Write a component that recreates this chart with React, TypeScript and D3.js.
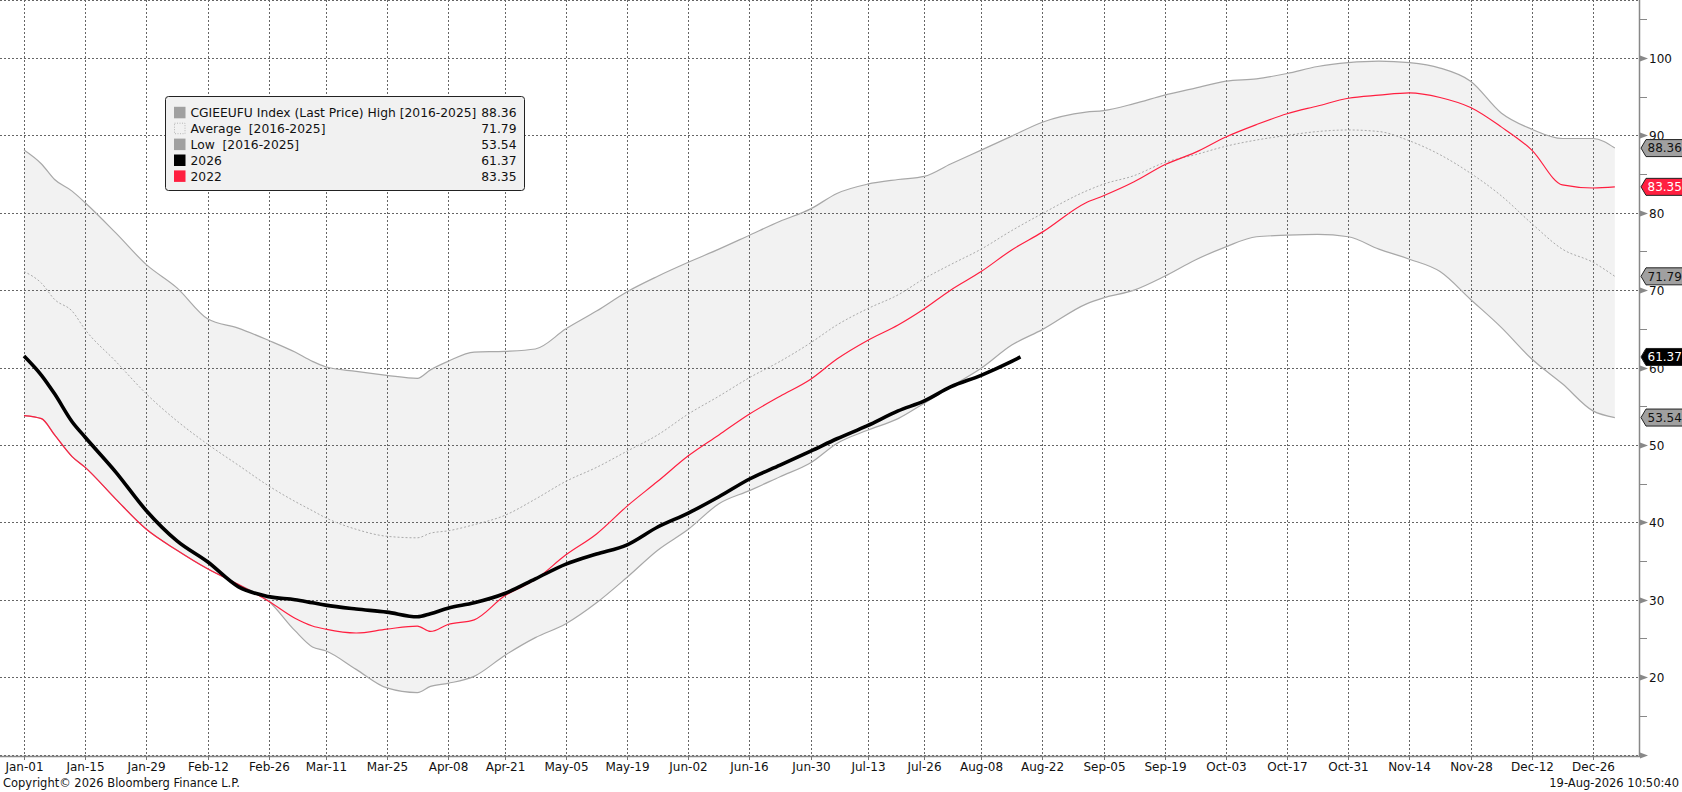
import * as React from 'react';
import * as d3 from 'd3';

// sample dates (MM-DD, 2026 calendar) used by the seasonal series
const seasonDates: string[] = [
	'01-01', '01-05', '01-08', '01-12', '01-15', '01-22', '01-29', '02-05', '02-12', '02-19',
	'02-26', '03-04', '03-08', '03-11', '03-18', '03-25', '04-01', '04-04', '04-08', '04-14',
	'04-21', '04-28', '05-05', '05-12', '05-19', '05-26', '06-02', '06-09', '06-16', '06-23',
	'06-30', '07-06', '07-13', '07-20', '07-26', '08-01', '08-08', '08-15', '08-22', '09-01',
	'09-05', '09-12', '09-19', '09-26', '10-03', '10-10', '10-17', '10-24', '10-31', '11-07',
	'11-14', '11-21', '11-28', '12-05', '12-12', '12-19', '12-26', '12-31'
];

const highValues: number[] = [
	88.1, 86.3, 84.3, 82.8, 81.3, 77.4, 73.3, 70.3, 66.3, 65.1,
	63.5, 62.0, 60.8, 60.1, 59.5, 59.0, 58.6, 59.7, 60.8, 62.0,
	62.1, 62.4, 65.0, 67.3, 69.8, 71.8, 73.6, 75.3, 77.1, 78.9,
	80.5, 82.5, 83.7, 84.3, 84.7, 86.3, 88.1, 89.9, 91.7, 93.0,
	93.2, 94.1, 95.2, 96.1, 97.0, 97.3, 98.0, 98.9, 99.4, 99.6,
	99.4, 98.7, 97.0, 92.9, 90.8, 89.6, 89.6, 88.36
];

const averageValues: number[] = [
	72.4, 70.9, 68.8, 67.3, 64.9, 60.8, 56.6, 53.1, 50.1, 47.4,
	44.7, 42.7, 41.5, 40.6, 39.1, 38.2, 38.0, 38.6, 38.9, 39.7,
	40.9, 43.0, 45.3, 47.1, 49.2, 51.3, 54.0, 56.3, 58.7, 60.8,
	63.2, 65.5, 67.6, 69.4, 71.5, 73.3, 75.3, 77.7, 79.9, 82.8,
	83.7, 84.8, 86.5, 87.5, 88.6, 89.4, 90.0, 90.5, 90.7, 90.5,
	89.3, 87.5, 85.1, 82.2, 78.6, 75.3, 73.6, 71.79
];

const lowValues: number[] = [
	53.8, 53.4, 51.3, 48.5, 47.1, 43.0, 39.1, 36.4, 34.0, 32.0,
	29.8, 26.0, 23.9, 23.4, 21.0, 18.6, 18.0, 18.8, 19.2, 20.1,
	22.8, 25.1, 26.9, 29.6, 32.9, 36.4, 39.1, 42.4, 44.1, 45.9,
	47.7, 50.2, 51.9, 53.4, 55.4, 57.5, 59.9, 62.9, 64.9, 68.2,
	69.0, 70.0, 71.8, 73.9, 75.6, 76.9, 77.1, 77.2, 76.9, 75.3,
	74.0, 72.4, 68.8, 65.2, 61.1, 57.9, 54.4, 53.54
];

const values2022: number[] = [
	53.8, 53.4, 51.3, 48.5, 47.1, 43.0, 39.1, 36.4, 34.0, 32.0,
	29.8, 27.6, 26.6, 26.2, 25.7, 26.2, 26.6, 25.9, 26.8, 27.4,
	30.5, 32.6, 35.8, 38.5, 42.1, 45.3, 48.6, 51.3, 54.0, 56.3,
	58.5, 61.1, 63.5, 65.5, 67.6, 70.0, 72.4, 75.2, 77.5, 81.3,
	82.2, 84.0, 86.2, 87.8, 89.8, 91.4, 92.8, 93.8, 94.8, 95.2,
	95.5, 94.9, 93.6, 91.1, 88.1, 83.6, 83.2, 83.35
];

const dates2026: string[] = [...seasonDates.slice(0, 38), '08-17'];
const values2026: number[] = [
	61.5, 59.0, 56.6, 53.0, 51.0, 46.5, 41.5, 37.6, 34.9, 31.7,
	30.4, 30.0, 29.6, 29.3, 28.8, 28.4, 27.8, 28.2, 28.9, 29.6,
	30.8, 32.7, 34.6, 35.9, 37.1, 39.4, 41.2, 43.3, 45.6, 47.4,
	49.2, 50.8, 52.5, 54.4, 55.7, 57.5, 59.0, 60.8, 61.37
];

const xTickLabels: string[] = [
	'Jan-01', 'Jan-15', 'Jan-29', 'Feb-12', 'Feb-26', 'Mar-11', 'Mar-25', 'Apr-08', 'Apr-21',
	'May-05', 'May-19', 'Jun-02', 'Jun-16', 'Jun-30', 'Jul-13', 'Jul-26', 'Aug-08', 'Aug-22',
	'Sep-05', 'Sep-19', 'Oct-03', 'Oct-17', 'Oct-31', 'Nov-14', 'Nov-28', 'Dec-12', 'Dec-26'
];

const yMajorTicks: number[] = [10, 20, 30, 40, 50, 60, 70, 80, 90, 100];
const yMinorTicks: number[] = [15, 25, 35, 45, 55, 65, 75, 85, 95, 105];

const legendLabels: string[] = [
	'CGIEEUFU Index (Last Price) High [2016-2025]',
	'Average  [2016-2025]',
	'Low  [2016-2025]',
	'2026',
	'2022'
];
const legendValues: string[] = ['88.36', '71.79', '53.54', '61.37', '83.35'];

const FONT = "Tahoma, 'DejaVu Sans', sans-serif";
const RED = '#ff1f40';
const BAND_LINE = '#a8a8a8';

const parseDay = (s: string) => {
	const [m, d] = s.split('-').map(Number);
	return new Date(2026, m - 1, d);
};
const parseTick = d3.timeParse('%Y-%b-%d');

export default function App() {
	const ref = React.useRef<SVGSVGElement>(null);

	React.useEffect(() => {
		const width = 1682;
		const height = 792;
		const axisX = 1640;
		const axisY = 756;

		const x = d3.scaleTime().domain([new Date(2026, 0, 1), new Date(2026, 11, 26)]).range([24, 1593]);
		const y = d3.scaleLinear().domain([10, 100]).range([754.5, 58]);

		const svg = d3.select(ref.current);
		svg.selectAll('*').remove();
		svg.attr('width', width).attr('height', height);
		svg.append('rect').attr('width', width).attr('height', height).attr('fill', '#fff');

		const band = seasonDates.map((s, i) => ({ date: parseDay(s), hi: highValues[i], lo: lowValues[i] }));

		// shaded high/low range
		const area = d3
			.area<any>()
			.x((d) => x(d.date))
			.y0((d) => y(d.lo))
			.y1((d) => y(d.hi))
			.curve(d3.curveMonotoneX);
		svg.append('path').datum(band).attr('d', area).attr('fill', '#f2f2f2');

		// grid
		const grid = svg.append('g').attr('stroke', '#666').attr('stroke-width', 1).attr('stroke-dasharray', '2,2');
		yMajorTicks.forEach((v) => {
			const yy = Math.round(y(v)) + 0.5;
			grid.append('line').attr('x1', 0).attr('x2', axisX).attr('y1', yy).attr('y2', yy);
		});
		grid.append('line').attr('x1', 0).attr('x2', axisX).attr('y1', 0.5).attr('y2', 0.5);
		xTickLabels.forEach((t) => {
			const xx = Math.round(x(parseTick('2026-' + t) as Date)) + 0.5;
			grid.append('line').attr('x1', xx).attr('x2', xx).attr('y1', 0).attr('y2', axisY);
		});

		const line = (vals: number[], dates: string[]) =>
			d3
				.line<number>()
				.x((_, i) => x(parseDay(dates[i])))
				.y((d) => y(d))
				.curve(d3.curveMonotoneX)(vals);

		svg.append('path').attr('d', line(highValues, seasonDates)).attr('fill', 'none').attr('stroke', BAND_LINE).attr('stroke-width', 1.2);
		svg.append('path').attr('d', line(lowValues, seasonDates)).attr('fill', 'none').attr('stroke', BAND_LINE).attr('stroke-width', 1.2);
		svg
			.append('path')
			.attr('d', line(averageValues, seasonDates))
			.attr('fill', 'none')
			.attr('stroke', '#aaa')
			.attr('stroke-width', 1)
			.attr('stroke-dasharray', '2,2');
		svg.append('path').attr('d', line(values2022, seasonDates)).attr('fill', 'none').attr('stroke', RED).attr('stroke-width', 1.2);
		svg
			.append('path')
			.attr('d', line(values2026, dates2026))
			.attr('fill', 'none')
			.attr('stroke', '#000')
			.attr('stroke-width', 3.6)
			.attr('stroke-linejoin', 'round');

		// bottom axis
		svg.append('line').attr('x1', 0).attr('x2', axisX).attr('y1', axisY + 0.5).attr('y2', axisY + 0.5).attr('stroke', '#888').attr('stroke-width', 1.5);
		const xLabels = svg.append('g').attr('font-family', FONT).attr('font-size', 12).attr('fill', '#111').attr('text-anchor', 'middle');
		xTickLabels.forEach((t) => {
			const xx = Math.round(x(parseTick('2026-' + t) as Date)) + 0.5;
			svg.append('line').attr('x1', xx).attr('x2', xx).attr('y1', axisY).attr('y2', axisY + 4).attr('stroke', '#777');
			xLabels.append('text').attr('x', xx).attr('y', 767).attr('dy', '0.35em').text(t);
		});

		// right axis
		svg.append('line').attr('x1', axisX - 0.5).attr('x2', axisX - 0.5).attr('y1', 0).attr('y2', axisY + 1).attr('stroke', '#888').attr('stroke-width', 1.5);
		yMinorTicks.forEach((v) => {
			const yy = Math.round(y(v)) + 0.5;
			svg.append('line').attr('x1', axisX).attr('x2', axisX + 7).attr('y1', yy).attr('y2', yy).attr('stroke', '#888');
		});
		const yLabels = svg.append('g').attr('font-family', FONT).attr('font-size', 12).attr('fill', '#111');
		yMajorTicks.forEach((v) => {
			const yy = Math.round(y(v)) + 0.5;
			svg
				.append('path')
				.attr('d', `M${axisX},${yy - 3}L${axisX + 8},${yy}L${axisX},${yy + 3}Z`)
				.attr('fill', '#888');
			if (v > 10) yLabels.append('text').attr('x', axisX + 9).attr('y', yy).attr('dy', '0.36em').text(v);
		});

		// last value tags
		const tags = [
			{ v: 88.36, fill: '#a0a0a0', text: '#111' },
			{ v: 83.35, fill: RED, text: '#fff' },
			{ v: 71.79, fill: '#a0a0a0', text: '#111' },
			{ v: 61.37, fill: '#000', text: '#fff' },
			{ v: 53.54, fill: '#a0a0a0', text: '#111' }
		];
		tags.forEach((t) => {
			const yy = y(t.v);
			svg
				.append('path')
				.attr('d', `M${axisX + 1},${yy}L${axisX + 6},${yy - 8.5}L${width + 2},${yy - 8.5}L${width + 2},${yy + 8.5}L${axisX + 6},${yy + 8.5}Z`)
				.attr('fill', t.fill)
				.attr('stroke', '#222')
				.attr('stroke-width', 1);
			svg
				.append('text')
				.attr('x', axisX + 7.5)
				.attr('y', yy)
				.attr('dy', '0.36em')
				.attr('font-family', FONT)
				.attr('font-size', 12)
				.attr('fill', t.text)
				.text(t.v.toFixed(2));
		});

		// legend
		const lg = svg.append('g').attr('transform', 'translate(165.5,96.5)');
		lg.append('rect').attr('width', 359).attr('height', 94).attr('rx', 3).attr('fill', '#f1f1f1').attr('stroke', '#222').attr('stroke-width', 1);
		const swatch = ['#a0a0a0', 'none', '#a0a0a0', '#000', RED];
		legendLabels.forEach((label, i) => {
			const cy = 16.3 + i * 15.9;
			const sw = lg.append('rect').attr('x', 8.5).attr('y', cy - 6).attr('width', 11.5).attr('height', 11.5).attr('fill', swatch[i]);
			if (swatch[i] === 'none') sw.attr('stroke', '#b5b5b5').attr('stroke-dasharray', '1,1.5').attr('x', 9).attr('y', cy - 5.5).attr('width', 10.5).attr('height', 10.5);
			lg.append('text')
				.attr('x', 25)
				.attr('y', cy)
				.attr('dy', '0.36em')
				.attr('font-family', FONT)
				.attr('font-size', 12.3)
				.attr('fill', '#111')
				.style('white-space', 'pre')
				.text(label);
			lg.append('text')
				.attr('x', 351)
				.attr('y', cy)
				.attr('dy', '0.36em')
				.attr('text-anchor', 'end')
				.attr('font-family', FONT)
				.attr('font-size', 12.3)
				.attr('fill', '#111')
				.text(legendValues[i]);
		});

		// footer
		svg.append('text').attr('x', 3).attr('y', 783).attr('dy', '0.36em').attr('font-family', FONT).attr('font-size', 11.5).attr('fill', '#111').text('Copyright\u00a9 2026 Bloomberg Finance L.P.');
		svg
			.append('text')
			.attr('x', 1679)
			.attr('y', 783)
			.attr('dy', '0.36em')
			.attr('text-anchor', 'end')
			.attr('font-family', FONT)
			.attr('font-size', 11.5)
			.attr('fill', '#111')
			.text('19-Aug-2026 10:50:40');
	}, []);

	return <svg ref={ref} style={{ position: 'absolute', left: 0, top: 0, display: 'block' }} />;
}
